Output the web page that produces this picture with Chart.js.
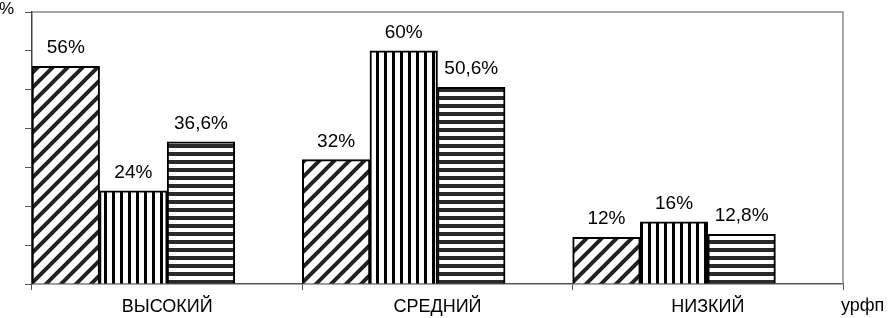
<!DOCTYPE html>
<html>
<head>
<meta charset="utf-8">
<script src="https://cdn.jsdelivr.net/npm/chart.js@4"></script>
<style>
  body { margin: 0; background: #fff; }
  #wrap { width: 888px; height: 318px; position: relative; }
</style>
</head>
<body>
<div id="wrap"><canvas id="chart"></canvas></div>
<script>
const categories = ["ВЫСОКИЙ", "СРЕДНИЙ", "НИЗКИЙ"];
const diagValues = [56, 32, 12];
const vertValues = [24, 60, 16];
const horizValues = [36.6, 50.6, 12.8];
const yTicks = [0, 10, 20, 30, 40, 50, 60, 70];
const yAxisLabel = "%";
const xAxisLabel = "урфп";

const FONT = "'Liberation Sans', Arial, sans-serif";

// build hatch fills for the bars
function makePattern(kind) {
    const c = document.createElement("canvas");
    const ctx = c.getContext("2d");
    if (kind === "diag") {
        c.width = 15; c.height = 15;
        ctx.fillStyle = "#fff";
        ctx.fillRect(0, 0, 15, 15);
        ctx.strokeStyle = "#222";
        ctx.lineWidth = 4;
        ctx.beginPath();
        ctx.moveTo(-7.5, 7.5); ctx.lineTo(7.5, -7.5);
        ctx.moveTo(0, 15); ctx.lineTo(15, 0);
        ctx.moveTo(7.5, 22.5); ctx.lineTo(22.5, 7.5);
        ctx.stroke();
    } else if (kind === "vert") {
        c.width = 8; c.height = 8;
        ctx.fillStyle = "#fff";
        ctx.fillRect(0, 0, 8, 8);
        ctx.fillStyle = "#000";
        ctx.fillRect(0, 0, 3, 8);
    } else {
        c.width = 8; c.height = 8;
        ctx.fillStyle = "#fff";
        ctx.fillRect(0, 0, 8, 8);
        ctx.fillStyle = "#2a2a2a";
        ctx.fillRect(0, 0, 8, 4);
    }
    return ctx.createPattern(c, "repeat");
}

const fmt = v => String(v).replace(".", ",") + "%";

const extras = {
    id: "extras",
    beforeDatasetsDraw(chart) {
        const { ctx, chartArea: a } = chart;
        ctx.save();
        ctx.strokeStyle = "#8a8a8a";
        ctx.lineWidth = 1.5;
        ctx.beginPath();
        ctx.moveTo(a.left, a.top);
        ctx.lineTo(a.right, a.top);
        ctx.lineTo(a.right, a.bottom);
        ctx.stroke();
        ctx.restore();
    },
    afterDatasetsDraw(chart) {
        const { ctx, chartArea: a } = chart;
        ctx.save();
        ctx.font = "19px " + FONT;
        ctx.fillStyle = "#000";
        ctx.textAlign = "center";
        ctx.textBaseline = "alphabetic";
        chart.data.datasets.forEach((ds, i) => {
            if (!ds.showLabels) return;
            chart.getDatasetMeta(i).data.forEach((bar, j) => {
                ctx.fillText(fmt(ds.data[j]), bar.x, bar.y - 13);
            });
        });
        ctx.textAlign = "left";
        ctx.font = "17px " + FONT;
        ctx.fillText(yAxisLabel, -1, 14);
        ctx.font = "18px " + FONT;
        ctx.fillText(xAxisLabel, a.right - 2, 311);
        ctx.restore();
    }
};

new Chart(document.getElementById("chart"), {
    type: "bar",
    data: {
        labels: categories,
        datasets: [
            { data: diagValues, backgroundColor: makePattern("diag"), showLabels: true },
            { data: vertValues, backgroundColor: makePattern("vert"), showLabels: true },
            { data: horizValues, backgroundColor: makePattern("horiz"), showLabels: true },
            // empty slot so the bars sit at the left of each group
            { data: categories.map(() => null), backgroundColor: "transparent", showLabels: false }
        ].map(ds => Object.assign(ds, {
            borderColor: "#000",
            borderWidth: 2,
            barPercentage: 1,
            categoryPercentage: 1
        }))
    },
    options: {
        responsive: true,
        maintainAspectRatio: false,
        animation: false,
        layout: { padding: { left: 25, right: 45, top: 12, bottom: -6 } },
        plugins: { legend: { display: false }, tooltip: { enabled: false } },
        scales: {
            x: {
                grid: { drawOnChartArea: false, tickLength: 6, color: "#555", offset: true },
                border: { color: "#555", width: 1.5 },
                ticks: {
                    color: "#000",
                    padding: 8,
                    font: { family: FONT, size: 18, lineHeight: 1 }
                }
            },
            y: {
                min: 0,
                max: yTicks[yTicks.length - 1],
                afterBuildTicks: axis => { axis.ticks = yTicks.map(v => ({ value: v })); },
                grid: { drawOnChartArea: false, tickLength: 7, color: "#555" },
                border: { color: "#444", width: 1.5 },
                ticks: { display: false }
            }
        }
    },
    plugins: [extras]
});
</script>
</body>
</html>
